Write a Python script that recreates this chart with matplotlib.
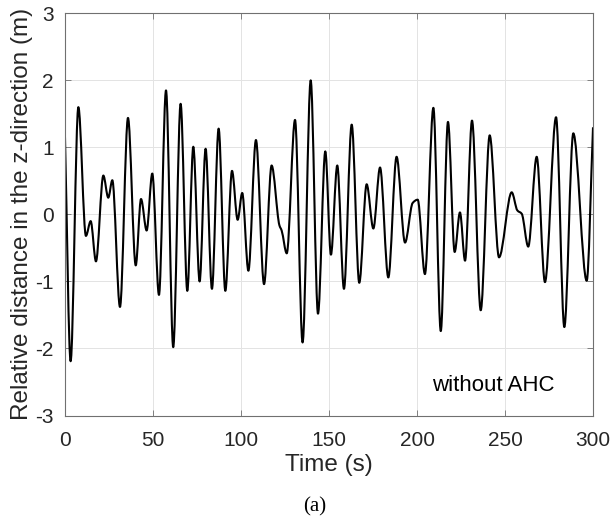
import numpy as np
import matplotlib
matplotlib.use("Agg")
import matplotlib.pyplot as plt
from matplotlib.path import Path
from matplotlib.patches import PathPatch

# -------- data (turning points of the trace) --------
time_s = [0.0, 3.2, 7.6, 11.9, 14.6, 17.6, 21.8, 24.6, 26.9, 31.25,
          35.8, 40.2, 43.2, 46.4, 49.6, 53.4, 57.4, 61.5, 65.7, 69.5,
          72.9, 76.5, 79.9, 83.5, 87.3, 91.1, 94.9, 98.1, 100.7, 104.2,
          108.5, 113.1, 117.4, 121.8, 123.1, 126.0, 130.7, 135.0, 139.6, 143.75,
          147.9, 151.1, 154.7, 158.5, 162.9, 167.2, 171.4, 175.2, 179.0, 183.7,
          188.4, 193.2, 197.5, 200.4, 204.5, 209.3, 213.5, 217.6, 221.4, 224.4,
          227.3, 231.25, 236.2, 241.3, 246.6, 253.8, 257.0, 259.5, 263.2, 268.0,
          272.7, 279.0, 283.7, 288.8, 296.4, 300.0]
dist_z = [1.15, -2.19, 1.60, -0.32, -0.10, -0.70, 0.58, 0.25, 0.51, -1.38,
          1.44, -0.76, 0.23, -0.24, 0.61, -1.20, 1.85, -1.98, 1.65, -1.14,
          1.01, -1.00, 0.98, -1.11, 1.28, -1.14, 0.65, -0.08, 0.32, -0.84,
          1.11, -1.04, 0.73, -0.16, -0.24, -0.58, 1.41, -1.91, 2.00, -1.48,
          0.94, -0.60, 0.73, -1.11, 1.34, -1.02, 0.45, -0.21, 0.70, -0.94,
          0.86, -0.42, 0.17, 0.22, -0.89, 1.59, -1.74, 1.38, -0.56, 0.03,
          -0.69, 1.40, -1.43, 1.18, -0.64, 0.33, 0.06, 0.01, -0.48, 0.86,
          -1.01, 1.45, -1.68, 1.21, -0.99, 1.30]

xticks = [0, 50, 100, 150, 200, 250, 300]
yticks = [-3, -2, -1, 0, 1, 2, 3]

plt.rcParams["font.family"] = ["Liberation Sans", "DejaVu Sans"]
plt.rcParams["axes.unicode_minus"] = False


def smooth_path(t, y):
    # cubic bezier segments (hermite form): flat at turning points
    t = np.asarray(t, float); y = np.asarray(y, float)
    n = len(t)
    d = np.diff(y) / np.diff(t)
    m = np.zeros(n)
    m[0], m[-1] = d[0], d[-1]
    for i in range(1, n - 1):
        if d[i-1] * d[i] > 0:
            m[i] = 2.0 / (1.0 / d[i-1] + 1.0 / d[i])
    verts = [(t[0], y[0])]
    codes = [Path.MOVETO]
    for i in range(n - 1):
        h = (t[i+1] - t[i]) / 3.0
        verts += [(t[i] + h, y[i] + m[i] * h),
                  (t[i+1] - h, y[i+1] - m[i+1] * h),
                  (t[i+1], y[i+1])]
        codes += [Path.CURVE4] * 3
    return Path(verts, codes)


fig = plt.figure(figsize=(6.13, 5.23), dpi=100)
ax = fig.add_axes([0.106, 0.2055, 0.8614, 0.769])

ax.add_patch(PathPatch(smooth_path(time_s, dist_z), fill=False,
                       edgecolor="black", lw=1.5, joinstyle="round"))

ax.set_xlim(0, 300)
ax.set_ylim(-3, 3)
ax.set_xticks(xticks)
ax.set_yticks(yticks)
ax.grid(True, color="#e3e3e3", lw=0.7)
ax.set_axisbelow(True)

for s in ax.spines.values():
    s.set_color("#707070")
    s.set_linewidth(0.8)
ax.tick_params(direction="in", length=4, width=0.6, top=True, right=True,
               labelsize=15, colors="#262626", color="#707070")
ax.tick_params(axis="x", pad=11)
ax.tick_params(axis="y", pad=8)

ax.set_xlabel("Time (s)", fontsize=17.5, color="#262626", labelpad=3)
ax.set_ylabel("Relative distance in the z-direction (m)", fontsize=17.5,
              color="#262626", labelpad=2)

ax.text(208.5, -2.63, "without AHC", fontsize=16, color="black",
        ha="left", va="baseline")

fig.text(0.513, 1 - 507 / 523, "(a)", fontsize=15, ha="center", va="center",
         family=["Liberation Serif", "DejaVu Serif"])

fig.savefig("out.png", dpi=100)
